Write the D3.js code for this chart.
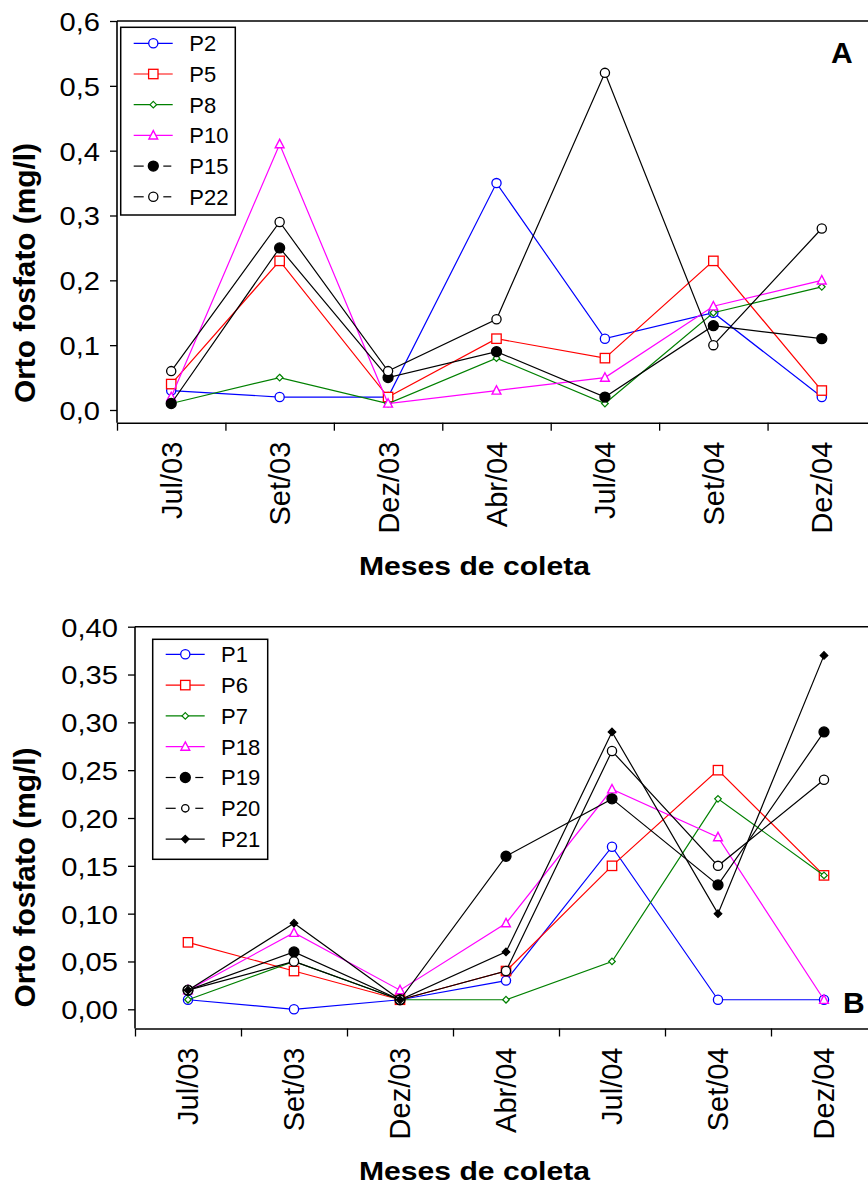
<!DOCTYPE html>
<html><head><meta charset="utf-8">
<script src="https://cdn.jsdelivr.net/npm/d3@7"></script>
<style>
body{margin:0;background:#fff}
svg{display:block}
text{font-family:"Liberation Sans",Arial,sans-serif;fill:#000}
</style>
</head><body>
<svg id="c" width="868" height="1187"></svg>
<script>
// ---------- DATA ----------
const months = ["Jul/03","Set/03","Dez/03","Abr/04","Jul/04","Set/04","Dez/04"];

// Panel A
const namesA = ["P2","P5","P8","P10","P15","P22"];
const P2  = [0.03,0.02,0.02,0.35,0.11,0.15,0.02];
const P5  = [0.04,0.23,0.02,0.11,0.08,0.23,0.03];
const P8  = [0.01,0.05,0.01,0.08,0.01,0.15,0.19];
const P10 = [0.02,0.41,0.01,0.03,0.05,0.16,0.20];
const P15 = [0.01,0.25,0.05,0.09,0.02,0.13,0.11];
const P22 = [0.06,0.29,0.06,0.14,0.52,0.10,0.28];
const ticksA = [0,0.1,0.2,0.3,0.4,0.5,0.6];

// Panel B
const namesB = ["P1","P6","P7","P18","P19","P20","P21"];
const P1  = [0.01,0.00,0.01,0.03,0.17,0.01,0.01];
const P6  = [0.07,0.04,0.01,0.04,0.15,0.25,0.14];
const P7  = [0.01,0.05,0.01,0.01,0.05,0.22,0.14];
const P18 = [0.02,0.08,0.02,0.09,0.23,0.18,0.01];
const P19 = [0.02,0.06,0.01,0.16,0.22,0.13,0.29];
const P20 = [0.02,0.05,0.01,0.04,0.27,0.15,0.24];
const P21 = [0.02,0.09,0.01,0.06,0.29,0.10,0.37];
const ticksB = [0,0.05,0.10,0.15,0.20,0.25,0.30,0.35,0.40];

// ---------- STYLES ----------
const BLUE="#0000ff", RED="#ff0000", GREEN="#008000", MAG="#ff00ff", BLK="#000000";
const styleA = [
  {c:BLUE, m:"circle"}, {c:RED, m:"square"}, {c:GREEN, m:"sdiamond"},
  {c:MAG, m:"triangle"}, {c:BLK, m:"fcircle", dash:true}, {c:BLK, m:"circle", dash:true}
];
const styleB = [
  {c:BLUE, m:"circle"}, {c:RED, m:"square"}, {c:GREEN, m:"sdiamond"},
  {c:MAG, m:"triangle"}, {c:BLK, m:"fcircle", dash:true}, {c:BLK, m:"circle", dash:true, ls:0.8},
  {c:BLK, m:"fdiamond"}
];

const svg = d3.select("#c");

function marker(g, type, cx, cy, color, s) {
  s = s || 1;
  if (type === "circle" || type === "fcircle") {
    g.append("circle").attr("cx",cx).attr("cy",cy).attr("r",(type==="fcircle"?5:4.6)*s)
      .attr("fill", type==="fcircle"?color:"#fff").attr("stroke",color).attr("stroke-width",1.3);
  } else if (type === "square") {
    const h = 4.7*s;
    g.append("rect").attr("x",cx-h).attr("y",cy-h).attr("width",2*h).attr("height",2*h)
      .attr("fill","#fff").attr("stroke",color).attr("stroke-width",1.3);
  } else if (type === "sdiamond" || type === "fdiamond") {
    const w = (type==="fdiamond"?3.8:3.3)*s, h = (type==="fdiamond"?3.8:3.3)*s;
    g.append("path").attr("d",`M${cx},${cy-h}L${cx+w},${cy}L${cx},${cy+h}L${cx-w},${cy}Z`)
      .attr("fill", type==="fdiamond"?color:"#fff").attr("stroke",color).attr("stroke-width",1.2);
  } else if (type === "triangle") {
    const w = 4.4*s, h = 4.2*s;
    g.append("path").attr("d",`M${cx},${cy-h-0.6}L${cx+w},${cy+h-0.6}L${cx-w},${cy+h-0.6}Z`)
      .attr("fill","#fff").attr("stroke",color).attr("stroke-width",1.4);
  }
}

function panel(cfg) {
  const g = svg.append("g");
  const x = d3.scaleBand().domain(months).range([cfg.x0, cfg.x1]);
  const xe = d3.scaleLinear().domain([0, months.length]).range([cfg.x0, cfg.x1]);
  const y = d3.scaleLinear().domain([0, cfg.ymax]).range([cfg.yZero, cfg.yTop]);
  const cx = d => x(d) + x.bandwidth()/2;

  // frame (top + right)
  g.append("path").attr("d",`M${cfg.x0},${cfg.yTop}H${cfg.x1}V${cfg.xAxisY}`)
    .attr("fill","none").attr("stroke","#000").attr("stroke-width",1.6);
  // y axis line
  g.append("line").attr("x1",cfg.x0).attr("x2",cfg.x0).attr("y1",cfg.yTop).attr("y2",cfg.xAxisY)
    .attr("stroke","#000").attr("stroke-width",1.6);
  // y axis ticks + labels
  const ya = g.append("g").attr("transform",`translate(${cfg.x0},0)`)
    .call(d3.axisLeft(y).tickValues(cfg.ticks).tickFormat(cfg.fmt).tickSize(7).tickPadding(10));
  ya.select(".domain").remove();
  ya.selectAll(".tick line").attr("stroke","#000").attr("stroke-width",1.3);
  ya.selectAll(".tick text").attr("font-size",26).attr("font-family","Liberation Sans, Arial, sans-serif")
    .attr("fill","#000").attr("dy","0.36em")
    .each(function(){ const L=this.getComputedTextLength(); d3.select(this).attr("textLength",L*1.12).attr("lengthAdjust","spacingAndGlyphs"); });

  // x axis: line + ticks at band edges
  const xa = g.append("g").attr("transform",`translate(0,${cfg.xAxisY})`)
    .call(d3.axisBottom(xe).tickValues(d3.range(0, months.length+1)).tickFormat("").tickSize(8).tickSizeOuter(0));
  xa.select(".domain").attr("stroke","#000").attr("stroke-width",1.6);
  xa.selectAll(".tick line").attr("stroke","#000").attr("stroke-width",1.3);
  // x labels centred on categories
  g.selectAll(".xl").data(months).join("text").attr("class","xl")
    .attr("transform", d => `translate(${cx(d)},${cfg.xAxisY+19}) rotate(-90)`)
    .attr("text-anchor","end").attr("dy","0.36em").attr("font-size",29).text(d => d);

  // axis titles
  g.append("text").attr("transform",`translate(35,${cfg.yTitleY}) rotate(-90)`)
    .attr("text-anchor","middle").attr("font-size",30).attr("font-weight","bold")
    .attr("textLength",260).attr("lengthAdjust","spacingAndGlyphs")
    .text("Orto fosfato (mg/l)");
  g.append("text").attr("x",474.5).attr("y",cfg.xTitleBase).attr("text-anchor","middle")
    .attr("font-size",26).attr("font-weight","bold")
    .attr("textLength",231).attr("lengthAdjust","spacingAndGlyphs")
    .text("Meses de coleta");

  // series
  cfg.names.forEach((n, i) => {
    const vals = cfg.data[i], st = cfg.styles[i];
    const line = d3.line().x((v, j) => cx(months[j])).y(v => y(v));
    const sg = g.append("g");
    sg.append("path").attr("d", line(vals)).attr("fill","none").attr("stroke",st.c).attr("stroke-width",1.2);
    vals.forEach((v, j) => marker(sg, st.m, cx(months[j]), y(v), st.c));
  });

  // legend
  const L = cfg.leg;
  g.append("rect").attr("x",L.x).attr("y",L.y).attr("width",L.w).attr("height",L.h)
    .attr("fill","#fff").attr("stroke","#000").attr("stroke-width",1.5);
  cfg.names.forEach((n, i) => {
    const st = cfg.styles[i];
    const yy = L.first + i*L.step;
    const lg = g.append("g");
    if (st.dash) {
      lg.append("line").attr("x1",L.lx0).attr("x2",L.lx0+10).attr("y1",yy).attr("y2",yy).attr("stroke",st.c).attr("stroke-width",1.2);
      lg.append("line").attr("x1",L.mx+10).attr("x2",L.mx+18).attr("y1",yy).attr("y2",yy).attr("stroke",st.c).attr("stroke-width",1.2);
    } else {
      lg.append("line").attr("x1",L.lx0).attr("x2",L.lx1).attr("y1",yy).attr("y2",yy).attr("stroke",st.c).attr("stroke-width",1.2);
    }
    marker(lg, st.m, L.mx, yy, st.c, st.ls || 1);
    lg.append("text").attr("x",L.tx).attr("y",yy).attr("dy","0.36em").attr("font-size",22).text(n);
  });

  // panel letter
  g.append("text").attr("x",cfg.letter.x).attr("y",cfg.letter.y).attr("font-size",30)
    .attr("font-weight","bold").text(cfg.letter.t);
}

const fmt1 = d => d3.format(".1f")(d).replace(".", ",");
const fmt2 = d => d3.format(".2f")(d).replace(".", ",");

panel({
  x0:117, x1:876, yTop:21, yZero:410, ymax:0.6, xAxisY:422.7,
  ticks:ticksA, fmt:fmt1, yTitleY:273, xTitleBase:575,
  names:namesA, data:[P2,P5,P8,P10,P15,P22], styles:styleA,
  leg:{x:120.7, y:27.3, w:114.6, h:187.7, first:43.3, step:30.7, lx0:133.7, lx1:172.7, mx:153.3, tx:189.3},
  letter:{x:831, y:63, t:"A"}
});
panel({
  x0:135, x1:877, yTop:626.7, yZero:1009.3, ymax:0.4, xAxisY:1028.5,
  ticks:ticksB, fmt:fmt2, yTitleY:877.5, xTitleBase:1180,
  names:namesB, data:[P1,P6,P7,P18,P19,P20,P21], styles:styleB,
  leg:{x:152.7, y:639.3, w:115, h:220, first:654.3, step:30.8, lx0:165.7, lx1:204.7, mx:185.3, tx:221},
  letter:{x:843, y:1012.7, t:"B"}
});
</script>
</body></html>
